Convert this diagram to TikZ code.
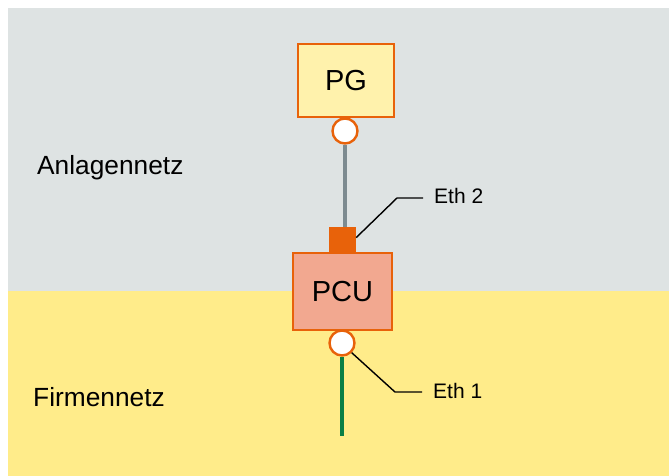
\documentclass[tikz,border=0pt]{standalone}
\usepackage{fontspec}
\setmainfont{Liberation Sans}
\usepackage{tikz}

\definecolor{plantgray}{HTML}{DEE3E3}
\definecolor{officeyellow}{HTML}{FFEC8A}
\definecolor{devfill}{HTML}{FFF2AC}
\definecolor{pcufill}{HTML}{F2A890}
\definecolor{portorange}{HTML}{E8620A}
\definecolor{cablegray}{HTML}{7D8B90}
\definecolor{cablegreen}{HTML}{0A7F45}

\tikzset{
  devbox/.style={draw=portorange,line width=2.8pt,minimum width=96pt,minimum height=73pt,
    inner sep=0pt,font=\fontsize{29}{31}\selectfont},
  portring/.style={circle,draw=portorange,line width=2.4pt,fill=white,minimum size=25pt,inner sep=0pt},
  leader/.style={line width=1.4pt,black},
  zonelabel/.style={anchor=base west,inner sep=0pt,font=\fontsize{26.3}{28}\selectfont},
  portlabel/.style={anchor=base west,inner sep=0pt,font=\fontsize{21}{23}\selectfont}
}

\begin{document}
\begin{tikzpicture}[x=1pt,y=-1pt]
  \useasboundingbox (0,0) rectangle (669,476);
  \fill[plantgray] (8,8) rectangle (669,291);
  \fill[officeyellow] (8,291) rectangle (669,476);

  \node[zonelabel] (plantlbl) at (37,174) {Anlagennetz};
  \node[zonelabel] (officelbl) at (33,406) {Firmennetz};

  \node[devbox,fill=devfill] (pg) at (346,80.5) {PG};
  \node[portring] (pgport) at (345,131) {};

  \node[devbox,fill=pcufill,minimum width=99pt,minimum height=77pt] (pcu) at (342.5,291.5) {PCU};
  \node[fill=portorange,minimum width=27pt,minimum height=26pt,inner sep=0pt] (eth2) at (342.5,240) {};
  \node[portring] (pcuport) at (342,343) {};
  \coordinate (lanend) at (342,436);

  \draw[cablegray,line width=3.5pt] (pgport.south) -- (pgport.south |- eth2.north);
  \draw[cablegreen,line width=3.5pt] (pcuport.south) -- (lanend);

  \node[portlabel] (eth2lbl) at (434,203) {Eth 2};
  \node[portlabel] (eth1lbl) at (433,398) {Eth 1};
  \draw[leader] (eth2.10) -- (397,198) -- (423,198);
  \draw[leader] (pcuport.-45) -- (395,392) -- (422,392);
\end{tikzpicture}
\end{document}
